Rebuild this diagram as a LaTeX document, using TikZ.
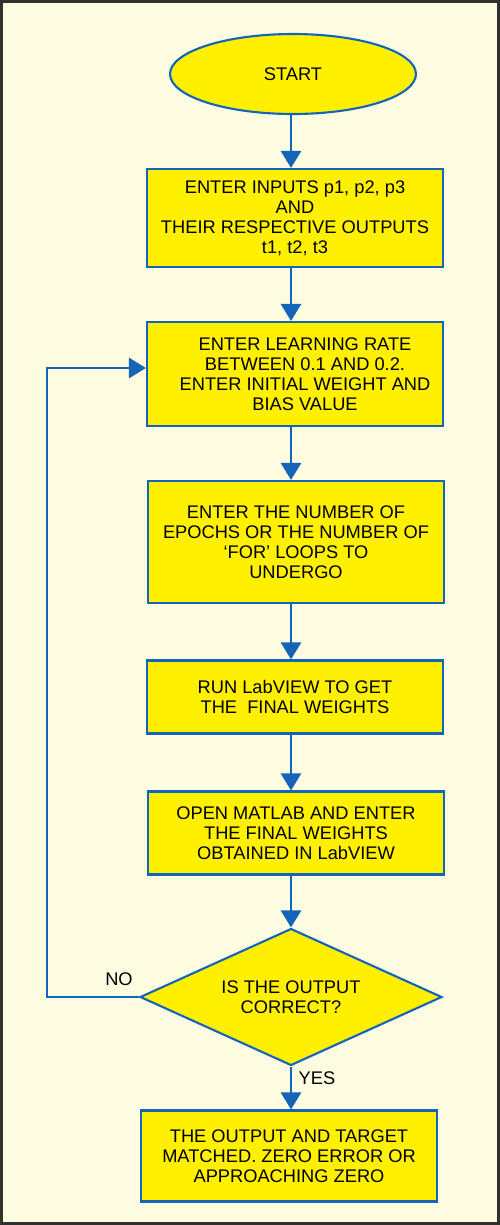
\documentclass[tikz,border=0pt]{standalone}
\usepackage{xcolor}
\usepackage{fontspec}
\setmainfont{Liberation Sans}
\usepackage{tikz}
\usetikzlibrary{arrows.meta, calc, shapes.geometric}

\definecolor{paper}{RGB}{254,252,224}
\definecolor{boxfill}{RGB}{255,240,0}
\definecolor{flowblue}{RGB}{20,100,185}
\definecolor{frame}{RGB}{50,50,45}

\begin{document}
\begin{tikzpicture}[x=0.02cm, y=-0.02cm,
  every node/.style={font=\fontsize{10.4}{11.4}\selectfont, text=black},
  stepbox/.style={draw=flowblue, line width=1.2pt, fill=boxfill, align=center,
    minimum width=5.92cm, inner sep=0pt},
  flow/.style={draw=flowblue, line width=1.5pt, -{Triangle[width=0.4cm, length=0.34cm]}}]
\useasboundingbox (0,0) rectangle (500,1225);
\draw[frame, line width=2pt, fill=paper] (1.5,1.5) rectangle (498.5,1223.5);

% Steps
\node[ellipse, draw=flowblue, line width=1.2pt, fill=boxfill, minimum width=4.92cm,
  minimum height=1.6cm, inner sep=0pt] (start) at (293,74) {START};
\node[stepbox, minimum height=1.96cm] (inputs) at (295,218)
  {ENTER INPUTS p1, p2, p3\\AND\\THEIR RESPECTIVE OUTPUTS\\t1, t2, t3};
\node[stepbox, minimum height=2.08cm] (lrate) at (295,374)
  {\hspace*{0.4cm}ENTER LEARNING RATE\\\hspace*{0.4cm}BETWEEN 0.1 AND 0.2.\\\hspace*{0.4cm}ENTER INITIAL WEIGHT AND\\\hspace*{0.4cm}BIAS VALUE};
\node[stepbox, minimum height=2.44cm] (epochs) at (296,542)
  {ENTER THE NUMBER OF\\EPOCHS OR THE NUMBER OF\\‘FOR’ LOOPS TO\\UNDERGO};
\node[stepbox, minimum height=1.46cm] (labview) at (295,697)
  {RUN LabVIEW TO GET\\THE~~FINAL WEIGHTS};
\node[stepbox, minimum height=1.66cm] (matlab) at (296,833)
  {OPEN MATLAB AND ENTER\\THE FINAL WEIGHTS\\OBTAINED IN LabVIEW};
\node[diamond, aspect=2.2, draw=flowblue, line width=1.2pt, fill=boxfill, align=center,
  minimum width=6.04cm, minimum height=2.74cm, inner sep=0pt] (check) at (291,997)
  {IS THE OUTPUT\\CORRECT?};
\node[stepbox, minimum height=1.82cm] (done) at (289,1156)
  {THE OUTPUT AND TARGET\\MATCHED. ZERO ERROR OR\\APPROACHING ZERO};

% Arrows
\coordinate (back) at (47,368);
\draw[flow] (start.south -| 291,0) -- (291,0 |- inputs.north);
\draw[flow] (inputs.south -| 291,0) -- (291,0 |- lrate.north);
\draw[flow] (lrate.south -| 291,0) -- (291,0 |- epochs.north);
\draw[flow] (epochs.south -| 291,0) -- (291,0 |- labview.north);
\draw[flow] (labview.south -| 291,0) -- (291,0 |- matlab.north);
\draw[flow] (matlab.south -| 291,0) -- (check.north);
\draw[flow] (check.south) -- (check.south |- done.north);
\draw[flow] (check.west) -- (check.west -| back) -- (back) -- (back -| lrate.west);

% Labels
\node (no) at (119,979) {NO};
\node (yes) at (317,1078) {YES};
\end{tikzpicture}
\end{document}
